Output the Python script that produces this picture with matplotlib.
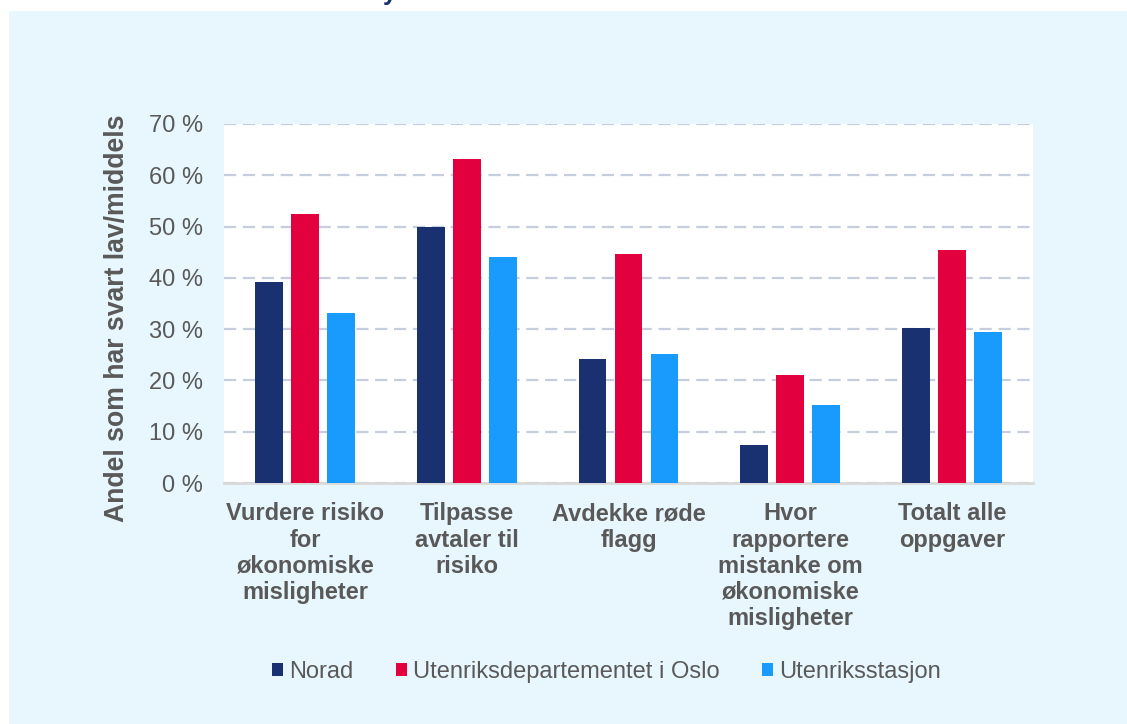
import matplotlib.pyplot as plt
from matplotlib.patches import Rectangle
import numpy as np

plt.rcParams['font.family'] = ['Liberation Sans', 'DejaVu Sans']

kategorier = ['Vurdere risiko\nfor\nøkonomiske\nmisligheter',
              'Tilpasse\navtaler til\nrisiko',
              'Avdekke røde\nflagg',
              'Hvor\nrapportere\nmistanke om\nøkonomiske\nmisligheter',
              'Totalt alle\noppgaver']
serier = ['Norad', 'Utenriksdepartementet i Oslo', 'Utenriksstasjon']
norad = [39.2, 50.0, 24.2, 7.5, 30.2]
ud_oslo = [52.5, 63.2, 44.7, 21.0, 45.5]
stasjon = [33.2, 44.0, 25.2, 15.2, 29.5]
yticks = [0, 10, 20, 30, 40, 50, 60, 70]

farger = ['#193170', '#E2003F', '#189BFD']
bakgrunn = '#E8F6FE'
tekst = '#595959'

fig = plt.figure(figsize=(11.27, 7.24), dpi=100)
fig.patch.set_facecolor('white')
# lyseblått panel bak diagrammet
fig.patches.append(Rectangle((9 / 1127, 0), 1, 1 - 11 / 724, transform=fig.transFigure,
                             facecolor=bakgrunn, edgecolor='none', zorder=-10))
# rest av tittel som er kuttet i toppen
fig.text(0.340, 1.0, 'y', fontsize=18, color='#193170', fontweight='bold', va='baseline')

ax = fig.add_axes([224 / 1127, 1 - 483 / 724, 809 / 1127, 359 / 724])
ax.set_facecolor('white')

x = np.arange(len(kategorier))
bw = 0.173
off = 0.2225
for i, (vals, navn) in enumerate(zip([norad, ud_oslo, stasjon], serier)):
    ax.bar(x + (i - 1) * off, vals, width=bw, color=farger[i], label=navn, zorder=3)

ax.set_xlim(-0.5, len(kategorier) - 0.5)
ax.set_ylim(0, 70)
ax.set_yticks(yticks)
ax.set_yticklabels([f'{v} %' for v in yticks], fontsize=17, color=tekst)
ax.set_xticks(x)
ax.set_xticklabels(kategorier, fontsize=17, fontweight='bold', color=tekst, linespacing=1.17)
ax.tick_params(axis='both', length=0)
ax.tick_params(axis='y', pad=15)
ax.tick_params(axis='x', pad=14)

ax.yaxis.grid(True, linestyle=(0, (5.5, 3)), color='#C6CEDD', linewidth=1.6, zorder=0)
ax.set_axisbelow(True)
for s in ['top', 'right', 'left']:
    ax.spines[s].set_visible(False)
ax.spines['bottom'].set_color('#D9D9D9')
ax.spines['bottom'].set_linewidth(2)

ax.set_ylabel('Andel som har svart lav/middels', fontsize=19.2, fontweight='bold', color=tekst)
ax.yaxis.set_label_coords(-0.116, 0.458)

handles, labels = ax.get_legend_handles_labels()
leg = fig.legend(handles, labels, loc='center', bbox_to_anchor=(0.538, 1 - 672 / 724), ncol=3,
                 frameon=False, fontsize=17, handlelength=0.47, handleheight=0.47,
                 handletextpad=0.25, columnspacing=1.8)
for t in leg.get_texts():
    t.set_color(tekst)

fig.savefig('out.png', dpi=100)
